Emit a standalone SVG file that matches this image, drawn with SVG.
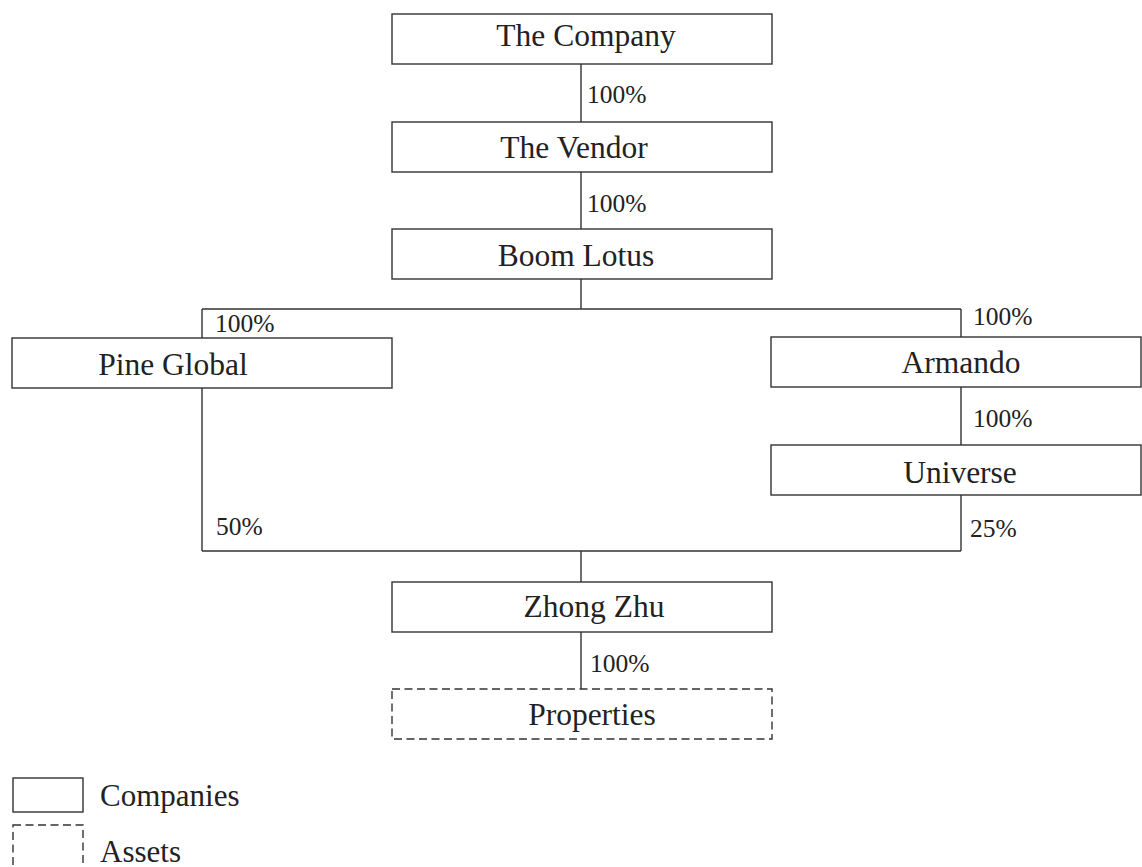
<svg xmlns="http://www.w3.org/2000/svg" width="1142" height="867" viewBox="0 0 1142 867">
<style>
.box{fill:#fff;stroke:#333;stroke-width:1.4}
.dash{fill:#fff;stroke:#333;stroke-width:1.4;stroke-dasharray:8 4.5}
.ln{fill:none;stroke:#333;stroke-width:1.4}
.t{font-family:"Liberation Serif","Times New Roman",serif;font-size:31.5px;fill:#222;text-anchor:middle}
.p{font-family:"Liberation Serif","Times New Roman",serif;font-size:25.5px;fill:#222}
.lg{font-family:"Liberation Serif","Times New Roman",serif;font-size:31px;fill:#222}
</style>
<rect width="1142" height="867" fill="#fff"/>
<g id="connectors">
<path class="ln" d="M581 64V122M581 172V229M581 279V309M202 309H961M202 309V338M961 309V337M961 387V445M202 388V551M961 495V551M202 551H961M581 551V582M581 632V689"/>
<text class="p" x="587" y="103">100%</text>
<text class="p" x="587" y="212">100%</text>
<text class="p" x="215" y="332">100%</text>
<text class="p" x="973" y="325">100%</text>
<text class="p" x="973" y="427">100%</text>
<text class="p" x="216" y="535">50%</text>
<text class="p" x="970" y="537">25%</text>
<text class="p" x="590" y="672">100%</text>
</g>
<g id="company"><rect class="box" x="392" y="14" width="380" height="50"/><text class="t" x="586" y="46">The Company</text></g>
<g id="vendor"><rect class="box" x="392" y="122" width="380" height="50"/><text class="t" x="574" y="158">The Vendor</text></g>
<g id="boomlotus"><rect class="box" x="392" y="229" width="380" height="50"/><text class="t" x="576" y="266">Boom Lotus</text></g>
<g id="pineglobal"><rect class="box" x="12" y="338" width="380" height="50"/><text class="t" x="173" y="375">Pine Global</text></g>
<g id="armando"><rect class="box" x="771" y="337" width="370" height="50"/><text class="t" x="961" y="373">Armando</text></g>
<g id="universe"><rect class="box" x="771" y="445" width="370" height="50"/><text class="t" x="960" y="483">Universe</text></g>
<g id="zhongzhu"><rect class="box" x="392" y="582" width="380" height="50"/><text class="t" x="594" y="617">Zhong Zhu</text></g>
<g id="properties"><rect class="dash" x="392" y="689" width="380" height="50"/><text class="t" x="592" y="725">Properties</text></g>
<g id="legend">
<rect class="box" x="13" y="778" width="70" height="34"/><text class="lg" x="100" y="806">Companies</text>
<rect class="dash" x="13" y="825" width="70" height="50"/><text class="lg" x="100" y="862">Assets</text>
</g>
</svg>
